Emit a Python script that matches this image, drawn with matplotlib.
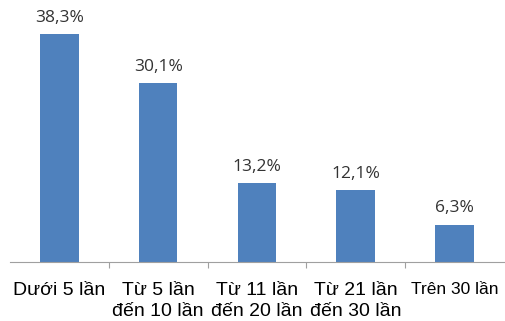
import numpy as np
import matplotlib.pyplot as plt

# data
categories = ["Dưới 5 lần", "Từ 5 lần\nđến 10 lần", "Từ 11 lần\nđến 20 lần",
              "Từ 21 lần\nđến 30 lần", "Trên 30 lần"]
values = [38.3, 30.1, 13.2, 12.1, 6.3]
value_labels = ["38,3%", "30,1%", "13,2%", "12,1%", "6,3%"]

fig = plt.figure(figsize=(5.06, 3.21), dpi=100)
ax = fig.add_axes([0.0198, 0.1838, 0.976, 0.7414])

x = np.arange(len(values))
ax.bar(x, values, width=0.39, color="#4F81BD")
ax.set_xlim(-0.5, len(values) - 0.5)
ax.set_ylim(0, 40)

for xi, v, lab in zip(x, values, value_labels):
    ax.annotate(lab, xy=(xi, v), xytext=(0, 6), textcoords="offset points",
                ha="center", va="bottom", fontsize=12.5, family="Open Sans",
                color="#333333", annotation_clip=False)

# hide everything but the bottom axis line
for side in ["left", "right", "top"]:
    ax.spines[side].set_visible(False)
ax.spines["bottom"].set_color("#A0A0A0")
ax.set_yticks([])

# tick marks between categories, labels in the middle
ax.set_xticks(np.arange(0.5, len(values) - 1, 1.0))
ax.set_xticklabels([])
ax.tick_params(axis="x", length=4, color="#A0A0A0", direction="out")
for xi, cat in zip(x, categories):
    fs = 12.5 if xi == 4 else 14
    ax.text(xi, -3.4, cat, ha="center", va="top", fontsize=fs,
            family="Liberation Sans", color="black", linespacing=1.3)

fig.savefig("out.png", dpi=100)
